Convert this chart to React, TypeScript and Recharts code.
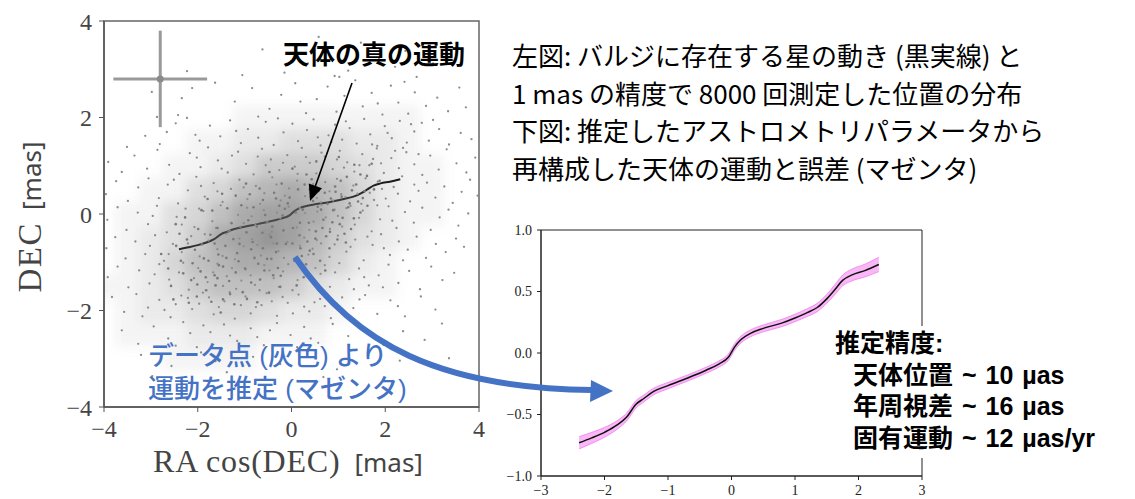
import React from "react";
import {
  ComposedChart,
  Scatter,
  Line,
  Area,
  XAxis,
  YAxis,
  ReferenceArea,
  ErrorBar,
} from "recharts";

// true motion of the star [mas] (same curve in both panels)
const trackX = [-2.4, -2.2, -2.0, -1.8, -1.65, -1.5, -1.38, -1.25, -1.0, -0.7, -0.4, -0.2, -0.05, 0.05, 0.15, 0.3, 0.5, 0.8, 1.0, 1.2, 1.35, 1.5, 1.62, 1.75, 1.9, 2.1, 2.32];
const trackY = [-0.73, -0.69, -0.645, -0.585, -0.52, -0.415, -0.37, -0.32, -0.265, -0.205, -0.14, -0.09, -0.035, 0.05, 0.11, 0.16, 0.2, 0.245, 0.285, 0.33, 0.37, 0.44, 0.51, 0.59, 0.635, 0.67, 0.72];
// half width of the magenta error band
const trackErr = [0.05, 0.045, 0.04, 0.035, 0.032, 0.03, 0.028, 0.027, 0.026, 0.025, 0.025, 0.025, 0.026, 0.027, 0.028, 0.028, 0.028, 0.03, 0.03, 0.032, 0.034, 0.036, 0.04, 0.044, 0.048, 0.052, 0.058];

// density of the 8000 measurements, 0.5 mas cells (level 0-10)
const cellX = [-4, -3.5, -3, -2.5, -2, -1.5, -1, -0.5, 0, 0.5, 1, 1.5, 2, 2.5, 3, 3.5];
const cellY = [2, 1.5, 1, 0.5, 0, -0.5, -1, -1.5, -2, -2.5, -3];
const cellLevel = [
  [0, 0, 0, 0, 0, 0, 1, 1, 1, 1, 1, 1, 1, 1, 0, 0],
  [0, 0, 0, 0, 1, 1, 2, 2, 3, 3, 3, 2, 2, 1, 0, 0],
  [0, 0, 0, 1, 1, 2, 3, 5, 5, 5, 4, 3, 2, 1, 1, 0],
  [0, 0, 1, 1, 3, 4, 6, 7, 8, 7, 6, 4, 2, 1, 1, 0],
  [0, 1, 1, 3, 4, 6, 8, 9, 9, 8, 6, 4, 2, 1, 1, 0],
  [0, 1, 2, 3, 5, 8, 9, 10, 9, 7, 5, 3, 2, 1, 0, 0],
  [0, 1, 2, 4, 6, 7, 8, 8, 7, 6, 4, 2, 1, 0, 0, 0],
  [1, 1, 2, 3, 5, 6, 6, 6, 5, 3, 2, 1, 1, 0, 0, 0],
  [0, 1, 2, 2, 3, 4, 4, 3, 2, 2, 1, 0, 0, 0, 0, 0],
  [0, 1, 1, 1, 2, 2, 2, 1, 1, 1, 0, 0, 0, 0, 0, 0],
  [0, 0, 0, 1, 1, 1, 1, 0, 0, 0, 0, 0, 0, 0, 0, 0],
];

// individual measurements (x, y pairs)
const cloudTop = [
  -0.62, 3.41, 0.35, 3.12, 1.48, 3.55, 2.21, 3.05, -0.15, 2.93, 0.92, 2.86, 1.87, 3.22, 2.67, 2.84, 0.58, 3.67, -1.05, 2.88, 1.21, 2.97, 3.02, 3.12, -2.23, 2.96, 2.43, 3.38,
  -2.98, 2.53, -2.12, 2.61, -2.34, 2.4, -2.87, 2.01, -2.42, 2.05, -1.63, 2.72, -1.21, 2.33, -0.84, 2.61, -0.47, 2.18, -0.22, 2.47, 0.08, 2.71, 0.31, 2.09, 0.54, 2.38, 0.77, 2.64,
  0.96, 2.12, 1.13, 2.45, 1.36, 2.77, 1.52, 2.23, 1.71, 2.51, 1.94, 2.06, 2.12, 2.66, 2.28, 2.31, 2.49, 2.08, 2.63, 2.52, 2.87, 2.24, 3.11, 2.41, 3.34, 2.13, 3.58, 2.62,
  -0.71, 2.02, 0.19, 2.33, 1.02, 2.84, 1.84, 2.29, 2.41, 2.74, 3.72, 2.21,
];
const cloudUpper = [
  -3.51, 1.39, -2.66, 1.7, -2.23, 1.99, -3.12, 1.62, -2.81, 1.45, -2.47, 1.88, -1.96, 1.52, -1.74, 1.83, -1.52, 1.61, -1.31, 1.94, -1.08, 1.47, -0.93, 1.76, -0.71, 1.58,
  -0.55, 1.91, -0.38, 1.43, -0.17, 1.69, 0.02, 1.87, 0.14, 1.51, 0.33, 1.74, 0.47, 1.96, 0.62, 1.42, 0.79, 1.63, 0.93, 1.85, 1.08, 1.54, 1.24, 1.78, 1.39, 1.46, 1.55, 1.97,
  1.68, 1.65, 1.83, 1.41, 1.99, 1.82, 2.14, 1.57, 2.31, 1.93, 2.46, 1.48, 2.62, 1.71, 2.78, 1.89, 2.93, 1.52, 3.15, 1.76, 3.36, 1.44, 3.61, 1.68, 3.84, 1.55, -0.29, 1.98,
  0.56, 1.59, 1.16, 1.92, 1.72, 1.44, 2.05, 1.68, 0.85, 1.49, -1.18, 1.72, 2.55, 1.86, 3.02, 1.95, -2.05, 1.64,
  -3.91, 1.08, -3.62, 0.87, -3.35, 1.21, -3.08, 0.94, -2.86, 1.33, -2.61, 1.02, -2.39, 0.83, -2.17, 1.26, -1.94, 0.97, -1.78, 1.38, -1.57, 1.11, -1.36, 0.86, -1.14, 1.29,
  -0.97, 1.04, -0.81, 0.82, -0.63, 1.35, -0.44, 1.13, -0.26, 0.91, -0.09, 1.22, 0.07, 0.98, 0.22, 1.37, 0.39, 1.06, 0.53, 0.84, 0.71, 1.19, 0.88, 0.93, 1.03, 1.31,
  1.19, 1.07, 1.34, 0.88, 1.51, 1.24, 1.66, 1.01, 1.82, 1.36, 1.97, 0.85, 2.13, 1.16, 2.29, 0.95, 2.45, 1.28, 2.62, 1.03, 2.79, 0.81, 2.96, 1.21, 3.14, 0.92, 3.31, 1.34,
  3.52, 1.05, 3.73, 0.86, 3.92, 1.17, -0.55, 1.01, 0.31, 1.18, 1.12, 0.96, 1.74, 1.14, 2.38, 1.37, -1.49, 0.94, -2.02, 1.17, 0.64, 1.27, 1.45, 1.01, -0.18, 1.06,
  2.71, 1.24, 0.97, 1.13, -1.27, 1.21, 1.91, 1.05, 0.13, 0.83, -0.72, 1.19, 2.21, 1.31,
];
const cloudMid = [
  -3.96, 0.41, -3.74, 0.68, -3.49, 0.27, -3.27, 0.55, -3.05, 0.74, -2.83, 0.33, -2.64, 0.61, -2.42, 0.22, -2.21, 0.49, -2.03, 0.77, -1.85, 0.36, -1.66, 0.64, -1.47, 0.25,
  -1.29, 0.52, -1.11, 0.71, -0.94, 0.31, -0.76, 0.58, -0.58, 0.43, -0.41, 0.76, -0.23, 0.28, -0.05, 0.53, 0.12, 0.69, 0.29, 0.37, 0.46, 0.62, 0.63, 0.24, 0.81, 0.47,
  0.97, 0.73, 1.15, 0.35, 1.32, 0.59, 1.49, 0.21, 1.67, 0.44, 1.84, 0.67, 2.01, 0.32, 2.18, 0.56, 2.36, 0.78, 2.53, 0.26, 2.71, 0.48, 2.89, 0.65, 3.07, 0.34, 3.26, 0.57,
  3.44, 0.23, 3.63, 0.46, 3.81, 0.71, 3.97, 0.38, -1.58, 0.47, -0.67, 0.21, 0.38, 0.51, 1.06, 0.41, 1.58, 0.74, 2.27, 0.42, -0.32, 0.61, 0.72, 0.66, 1.93, 0.52,
  -1.02, 0.55, 0.54, 0.33, 1.41, 0.42, -2.51, 0.71, 2.62, 0.61, -0.14, 0.38, 0.89, 0.28, 1.76, 0.29, -1.93, 0.58,
  -3.93, -0.12, -3.71, 0.14, -3.52, -0.33, -3.28, 0.03, -3.06, -0.21, -2.87, 0.17, -2.66, -0.38, -2.45, -0.06, -2.26, 0.11, -2.07, -0.27, -1.88, 0.06, -1.69, -0.15,
  -1.51, 0.18, -1.32, -0.34, -1.14, -0.02, -0.95, 0.13, -0.77, -0.23, -0.59, 0.08, -0.42, -0.37, -0.24, -0.09, -0.06, 0.15, 0.11, -0.28, 0.29, 0.02, 0.47, -0.16,
  0.64, 0.19, 0.82, -0.31, 0.99, -0.04, 1.17, 0.12, 1.35, -0.22, 1.52, 0.07, 1.71, -0.36, 1.89, -0.11, 2.07, 0.16, 2.24, -0.29, 2.42, 0.04, 2.61, -0.18, 2.79, 0.13,
  2.97, -0.33, 3.16, -0.07, 3.35, 0.09, 3.56, -0.24, 3.77, 0.01, -2.96, -0.04, -1.97, 0.11, -1.02, -0.19, -0.31, 0.03, 0.38, -0.33, 0.92, 0.09, 1.44, -0.08,
  2.15, -0.14, -0.85, -0.05, 0.18, 0.12, 0.73, -0.07, 1.26, 0.17, -1.61, -0.29, -0.51, -0.18, 1.83, 0.18, -2.34, -0.22, 0.55, 0.05, 1.08, -0.26,
];
const cloudLower = [
  -3.95, -0.71, -3.76, -0.48, -3.54, -0.92, -3.33, -0.57, -3.12, -0.83, -2.91, -0.44, -2.72, -0.97, -2.53, -0.62, -2.34, -0.79, -2.14, -0.46, -1.96, -0.88, -1.77, -0.55,
  -1.58, -0.73, -1.39, -0.41, -1.21, -0.94, -1.02, -0.67, -0.84, -0.52, -0.65, -0.86, -0.47, -0.43, -0.28, -0.77, -0.09, -0.58, 0.09, -0.95, 0.27, -0.49, 0.45, -0.72,
  0.63, -0.61, 0.81, -0.89, 0.99, -0.45, 1.17, -0.78, 1.36, -0.53, 1.54, -0.96, 1.73, -0.64, 1.91, -0.42, 2.1, -0.85, 2.29, -0.57, 2.48, -0.74, 2.67, -0.47, 2.87, -0.91,
  3.08, -0.62, 3.29, -0.79, 3.51, -0.51, -3.02, -0.66, -2.21, -0.61, -1.47, -0.87, -0.73, -0.64, -0.16, -0.91, 0.54, -0.54, 1.26, -0.68, 1.97, -0.71, -1.85, -0.42,
  -1.11, -0.51, -0.38, -0.61, 0.36, -0.84, 0.92, -0.63, 1.62, -0.47, -2.62, -0.83, 0.18, -0.66, 2.38, -0.96, 3.68, -0.68,
  -3.92, -1.31, -3.71, -1.09, -3.48, -1.52, -3.25, -1.17, -3.03, -1.44, -2.82, -1.04, -2.61, -1.36, -2.4, -1.21, -2.19, -1.57, -1.99, -1.12, -1.79, -1.41, -1.58, -1.03,
  -1.38, -1.29, -1.18, -1.55, -0.98, -1.15, -0.78, -1.47, -0.58, -1.06, -0.38, -1.33, -0.18, -1.19, 0.02, -1.58, 0.22, -1.08, 0.42, -1.39, 0.62, -1.24, 0.82, -1.51,
  1.02, -1.02, 1.23, -1.35, 1.44, -1.13, 1.65, -1.48, 1.86, -1.27, 2.07, -1.05, 2.28, -1.43, 2.51, -1.18, 2.74, -1.56, 2.98, -1.09, 3.22, -1.37, 3.47, -1.22,
  -2.92, -1.25, -2.08, -1.33, -1.46, -1.49, -0.87, -1.27, -0.27, -1.51, 0.31, -1.27, 0.93, -1.21, 1.55, -1.31, -1.67, -1.21, -1.07, -1.38, -0.47, -1.17, 0.13, -1.37,
  0.71, -1.06, 1.33, -1.56, -2.31, -1.01, -0.68, -1.58, 0.51, -1.12, 1.95, -1.52, -1.27, -1.12, -0.07, -1.04,
];
const cloudBottom = [
  -3.83, -1.72, -3.57, -2.03, -3.31, -1.66, -3.06, -1.94, -2.82, -1.78, -2.58, -2.14, -2.35, -1.69, -2.12, -1.97, -1.89, -1.63, -1.66, -2.08, -1.43, -1.81, -1.21, -2.17,
  -0.98, -1.71, -0.76, -1.93, -0.53, -1.64, -0.31, -2.11, -0.08, -1.84, 0.15, -1.67, 0.38, -2.02, 0.61, -1.76, 0.84, -2.16, 1.08, -1.73, 1.32, -1.95, 1.57, -1.68,
  1.83, -2.07, 2.11, -1.79, 2.42, -2.12, 2.76, -1.71, 3.07, -1.98, -2.71, -1.99, -1.97, -1.86, -1.32, -1.62, -0.64, -1.89, 0.03, -2.06, 0.71, -1.91, 1.45, -1.77,
  -2.21, -1.74, -1.55, -1.93, -0.87, -2.06, -0.19, -1.72, 0.49, -1.83, -3.18, -2.12, 1.19, -2.11, -1.08, -1.89, -0.42, -1.81, 0.27, -1.92, -2.47, -1.87, -1.76, -1.73,
  0.96, -1.86, 2.27, -1.91,
  -3.62, -2.41, -3.27, -2.69, -2.94, -2.33, -2.63, -2.58, -2.31, -2.24, -2.02, -2.76, -1.73, -2.45, -1.44, -2.29, -1.16, -2.63, -0.87, -2.37, -0.59, -2.72, -0.31, -2.26,
  -0.02, -2.51, 0.27, -2.34, 0.57, -2.67, 0.88, -2.28, 1.21, -2.53, 1.57, -2.39, 1.96, -2.71, 2.38, -2.43, 2.84, -2.61, -2.16, -2.47, -1.31, -2.52, -0.46, -2.41,
  0.41, -2.58, -1.88, -2.31, -0.73, -2.55, 0.12, -2.76, 3.21, -2.27, -2.47, -2.73,
  -3.21, -2.92, -2.56, -3.15, -1.93, -2.87, -1.38, -3.28, -0.82, -2.96, -0.24, -3.11, 0.35, -2.84, 0.97, -3.22, 1.64, -2.93, 2.31, -3.04, -2.97, -3.36, 3.36, -2.99,
  -1.62, -3.05, 0.68, -3.38,
];
// extra measurements inside the dense core
const cloudCore = [
  -2.14, -1.37, -1.87, -0.92, -1.62, -1.48, -1.41, -0.66, -1.19, -1.21, -0.96, -0.38, -0.71, -1.03, -0.52, -0.17, -0.33, -0.79, -0.08, 0.22,
  0.17, -0.44, 0.41, 0.36, 0.68, -0.12, 0.93, 0.57, 1.21, 0.14, 1.47, 0.82, -2.36, -0.97, -2.02, -1.71, -1.73, -0.43, -1.55, -1.06,
  -1.28, -0.19, -1.04, -1.62, -0.83, -0.58, -0.61, 0.29, -0.39, -1.27, -0.19, -0.03, 0.06, -0.97, 0.28, 0.61, 0.52, -0.36, 0.77, 0.21,
  1.03, -0.21, 1.29, 0.49, -2.57, -1.49, -2.23, -0.53, -1.94, -1.19, -1.69, 0.07, -1.46, -1.77, -1.16, -0.81, -0.89, 0.41, -0.67, -1.36,
  -0.44, -0.48, -0.21, 0.63, 0.02, -0.61, 0.24, 0.09, 0.47, -0.83, 0.71, 0.44, 0.98, -0.53, 1.18, 0.77, 1.42, 0.26, 1.71, 1.04,
  -2.78, -0.83, -2.47, -0.21, -2.11, -1.02, -1.82, -1.58, -1.58, -0.29, -1.33, -1.39, -1.07, 0.18, -0.79, -0.91, -0.56, -0.02, -0.29, -1.12,
  -0.04, 0.34, 0.19, -0.71, 0.43, 0.72, 0.66, -0.29, 0.89, 0.08, 1.13, -0.41, 1.38, 0.61, 1.62, 0.17, 1.88, 0.69, -1.99, -0.31,
  -1.77, -0.97, -1.51, -2.04, -1.24, -0.52, -0.99, -1.13, -0.74, -0.26, -0.48, -1.63, -0.26, 0.17, 0.03, -0.29, 0.31, -1.04, 0.56, 0.15,
  0.81, -0.71, 1.07, 0.36, 1.33, -0.09, 1.56, 0.47, -2.31, -1.23, -2.06, -0.74, -1.79, 0.31, -1.56, -0.84, -1.31, -1.66, -1.09, -0.27,
  -0.86, -1.42, -0.61, -0.71, -0.37, 0.44, -0.12, -0.62, 0.14, 0.51, 0.37, -0.18, 0.61, -0.97, 0.84, 0.32, 1.09, -0.08, 1.34, 1.02,
  -2.63, -1.13, -2.39, -0.41, -1.91, -0.63, -1.64, -1.27, -1.37, 0.12, -1.13, -0.98, -0.92, -0.13, -0.68, 0.53, -0.43, -0.93, -0.17, -0.34,
  0.09, 0.03, 0.34, -0.57, 0.58, 0.48, 0.82, -0.37, 1.05, 0.69, 1.27, -0.31, 1.52, 0.33, 1.76, 0.51, -2.19, -1.84, -1.71, -1.82,
  -1.22, -1.87, -0.73, -1.83, -0.24, -1.51, 0.26, -1.31, 0.72, -1.17, -0.97, 0.63, -0.47, 0.87, 0.02, 0.94, 0.53, 1.09, 1.01, 1.18,
  -2.46, -0.66, -1.48, 0.42, -0.58, -1.17, 0.39, -0.76, 1.16, -0.59, -1.83, -1.31, -0.86, -0.73, 0.18, -0.18, 0.94, 0.46, -1.39, -0.91,
  -0.31, -0.61, 0.63, 0.09, -2.01, -1.46, -1.11, -0.62, -0.14, 0.11, 0.87, -0.17, -1.64, -0.61, -0.52, -0.93, 0.46, 0.27, -2.27, -0.07,
  -1.34, -0.36, -0.41, -0.26, 0.51, -0.51, 1.47, 0.03, -1.92, 0.08, -0.95, -1.76, 0.11, -1.48, 1.24, 0.22, -1.58, -1.33, -0.62, -0.39,
  0.32, 0.82, -0.23, -1.28, 0.74, -0.46, -1.19, 0.38, -2.52, -1.77, -0.81, 0.14, 0.22, -0.87, 1.61, 0.79, -1.46, -1.09, -0.33, 0.32,
];

// 1 mas error cross drawn in the corner
const crossX = [-2.8];
const crossY = [2.8];
const crossErr = 1;

const leftTicks = [-4, -2, 0, 2, 4];
const rightXTicks = [-3, -2, -1, 0, 1, 2, 3];
const rightYTicks = [-1, -0.5, 0, 0.5, 1];

const pairs = (a: number[]) => {
  const out: { x: number; y: number }[] = [];
  for (let i = 0; i < a.length; i += 2) out.push({ x: a[i], y: a[i + 1] });
  return out;
};
const cloud = [...pairs(cloudTop), ...pairs(cloudUpper), ...pairs(cloudMid), ...pairs(cloudLower), ...pairs(cloudBottom)];
const core = pairs(cloudCore);
const track = trackX.map((x, i) => ({ x, y: trackY[i] }));
const bandRows = trackX.map((x, i) => ({ x, y: trackY[i], band: [trackY[i] - trackErr[i], trackY[i] + trackErr[i]] }));
const cells: { x: number; y: number; v: number }[] = [];
cellY.forEach((y, r) => cellX.forEach((x, c) => { if (cellLevel[r][c] > 0) cells.push({ x, y, v: cellLevel[r][c] }); }));
const cross = crossX.map((x, i) => ({ x, y: crossY[i], ex: crossErr, ey: crossErr }));

const SERIF = "'Liberation Serif', 'DejaVu Serif', serif";
const JP = "'Noto Sans CJK JP', 'Noto Sans', sans-serif";
// Latin glyphs from Liberation Sans, kana/kanji fall back to Noto CJK
const JP_MIX = "'Liberation Sans', 'Noto Sans CJK JP', sans-serif";
const minus = (s: string) => s.replace("-", "\u2212");
const fmtInt = (v: number) => minus(String(v));
const fmtDec = (v: number) => minus(v.toFixed(1));

// plot box of the left panel in px
const PLOT_W = 375;
const PLOT_H = 386;
const CELL_W = PLOT_W / 16;
const CELL_H = PLOT_H / 16;

const DensityCell = (p: any) => (
  <rect x={p.cx - CELL_W / 2} y={p.cy - CELL_H / 2} width={CELL_W} height={CELL_H} fill="#6a6a6a" fillOpacity={p.payload.v * 0.07} />
);
const Dot = (p: any) => <circle cx={p.cx} cy={p.cy} r={1.15} fill="#8c8c8c" />;
const CoreDot = (p: any) => <circle cx={p.cx} cy={p.cy} r={1.3} fill="#7a7a7a" />;
const CrossDot = (p: any) => <circle cx={p.cx} cy={p.cy} r={3.5} fill="#8a8a8a" />;

export default function App() {
  return (
    <div style={{ position: "absolute", left: 0, top: 0, width: 1135, height: 499, background: "#fff", overflow: "hidden" }}>
      <style>{`.density-blur { filter: blur(6px); }`}</style>

      {/* left panel: measured positions */}
      <div style={{ position: "absolute", left: 0, top: 0 }}>
        <ComposedChart width={500} height={499} margin={{ top: 21, right: 21, bottom: 52, left: 34 }}>
          <XAxis
            type="number"
            dataKey="x"
            domain={[-4, 4]}
            ticks={leftTicks}
            allowDataOverflow
            height={40}
            tickSize={5}
            tickMargin={8}
            axisLine={{ stroke: "#555", strokeWidth: 1.5 }}
            tickLine={{ stroke: "#555" }}
            tick={{ fontSize: 24, fill: "#444", fontFamily: SERIF }}
            tickFormatter={fmtInt}
          />
          <YAxis
            type="number"
            dataKey="y"
            domain={[-4, 4]}
            ticks={leftTicks}
            allowDataOverflow
            width={70}
            tickSize={5}
            tickMargin={7}
            axisLine={{ stroke: "#555", strokeWidth: 1.5 }}
            tickLine={{ stroke: "#555" }}
            tick={{ fontSize: 24, fill: "#444", fontFamily: SERIF }}
            tickFormatter={fmtInt}
          />
          <Scatter data={cells} className="density-blur" shape={DensityCell} isAnimationActive={false} />
          <Scatter data={cloud} shape={Dot} isAnimationActive={false} />
          <Scatter data={core} shape={CoreDot} isAnimationActive={false} />
          <ReferenceArea x1={-4} x2={4} y1={-4} y2={4} fill="none" stroke="#666" strokeWidth={1.5} />
          <Scatter data={cross} shape={CrossDot} isAnimationActive={false}>
            <ErrorBar dataKey="ex" direction="x" width={0} stroke="#9a9a9a" strokeWidth={3} isAnimationActive={false} />
            <ErrorBar dataKey="ey" direction="y" width={0} stroke="#9a9a9a" strokeWidth={3} isAnimationActive={false} />
          </Scatter>
          <Line data={track} dataKey="y" type="monotone" stroke="#111" strokeWidth={2} dot={false} isAnimationActive={false} />
        </ComposedChart>
      </div>

      {/* right panel: reconstructed motion */}
      <div style={{ position: "absolute", left: 480, top: 210 }}>
        <ComposedChart width={460} height={289} data={bandRows} margin={{ top: 20, right: 18, bottom: 0, left: 11 }}>
          <XAxis
            type="number"
            dataKey="x"
            domain={[-3, 3]}
            ticks={rightXTicks}
            allowDataOverflow
            height={23}
            tickSize={4}
            tickMargin={5}
            axisLine={{ stroke: "#222" }}
            tickLine={{ stroke: "#222" }}
            tick={{ fontSize: 14, fill: "#222", fontFamily: SERIF }}
            tickFormatter={fmtInt}
          />
          <YAxis
            type="number"
            domain={[-1, 1]}
            ticks={rightYTicks}
            allowDataOverflow
            width={50}
            tickSize={4}
            tickMargin={5}
            axisLine={{ stroke: "#222" }}
            tickLine={{ stroke: "#222" }}
            tick={{ fontSize: 14, fill: "#222", fontFamily: SERIF }}
            tickFormatter={fmtDec}
          />
          <ReferenceArea x1={-3} x2={3} y1={-1} y2={1} fill="none" stroke="#222" />
          <Area dataKey="band" type="monotone" fill="#f8aaf4" fillOpacity={0.85} stroke="#f070ee" strokeOpacity={0.7} strokeWidth={1} isAnimationActive={false} />
          <Line dataKey="y" type="monotone" stroke="#111" strokeWidth={1.5} dot={false} isAnimationActive={false} />
        </ComposedChart>
      </div>

      {/* axis titles of the left panel */}
      <div style={{ position: "absolute", left: 153, top: 445, whiteSpace: "nowrap", color: "#444", lineHeight: "33px" }}>
        <span style={{ fontFamily: SERIF, fontSize: 32, letterSpacing: 0.8 }}>RA cos(DEC)</span>
        <span style={{ fontFamily: "'Noto Sans', sans-serif", fontSize: 26, marginLeft: 14 }}>[mas]</span>
      </div>
      <div
        style={{
          position: "absolute",
          left: 33,
          top: 217,
          transform: "translate(-50%, -50%) rotate(-90deg)",
          whiteSpace: "nowrap",
          color: "#444",
          lineHeight: "33px",
        }}
      >
        <span style={{ fontFamily: SERIF, fontSize: 33, letterSpacing: 1.5 }}>DEC</span>
        <span style={{ fontFamily: "'Noto Sans', sans-serif", fontSize: 26, marginLeft: 12 }}>[mas]</span>
      </div>

      {/* annotations */}
      <svg width={1135} height={499} style={{ position: "absolute", left: 0, top: 0, pointerEvents: "none" }}>
        <line x1={352} y1={83} x2={315.4} y2={185.9} stroke="#000" strokeWidth={1.6} />
        <polygon points="310,201 322,188.3 308.8,183.6" fill="#000" />
        <path d="M295,257 C355,345 440,388 592,390" fill="none" stroke="#4472C4" strokeWidth={6} />
        <polygon points="613,391 591,380 590,402" fill="#4472C4" />
      </svg>

      <div style={{ position: "absolute", left: 283, top: 40, fontFamily: JP, fontSize: 26, fontWeight: 700, lineHeight: "25px", whiteSpace: "nowrap" }}>
        天体の真の運動
      </div>
      <div
        style={{
          position: "absolute",
          left: 148,
          top: 340,
          fontFamily: JP_MIX,
          fontSize: 26,
          fontWeight: 500,
          lineHeight: "33px",
          color: "#4472C4",
          whiteSpace: "nowrap",
        }}
      >
        <div>データ点 (灰色) より</div>
        <div>運動を推定 (マゼンタ)</div>
      </div>

      <div style={{ position: "absolute", left: 512, top: 36, fontFamily: JP, fontSize: 26, lineHeight: "37.5px", color: "#000", whiteSpace: "nowrap" }}>
        <div>左図: バルジに存在する星の動き (黒実線) と</div>
        <div>1 mas の精度で 8000 回測定した位置の分布</div>
        <div>下図: 推定したアストロメトリパラメータから</div>
        <div>再構成した天体の運動と誤差 (マゼンタ)</div>
      </div>

      <div
        style={{
          position: "absolute",
          left: 830,
          top: 326,
          width: 305,
          height: 132,
          background: "#fff",
        }}
      />
      <div
        style={{
          position: "absolute",
          left: 835,
          top: 328,
          fontFamily: JP_MIX,
          fontSize: 25,
          fontWeight: 700,
          lineHeight: "31.5px",
          whiteSpace: "nowrap",
          wordSpacing: 2,
        }}
      >
        <div>推定精度:</div>
        <div style={{ paddingLeft: 18 }}>天体位置 ~ 10 µas</div>
        <div style={{ paddingLeft: 18 }}>年周視差 ~ 16 µas</div>
        <div style={{ paddingLeft: 18 }}>固有運動 ~ 12 µas/yr</div>
      </div>
    </div>
  );
}
